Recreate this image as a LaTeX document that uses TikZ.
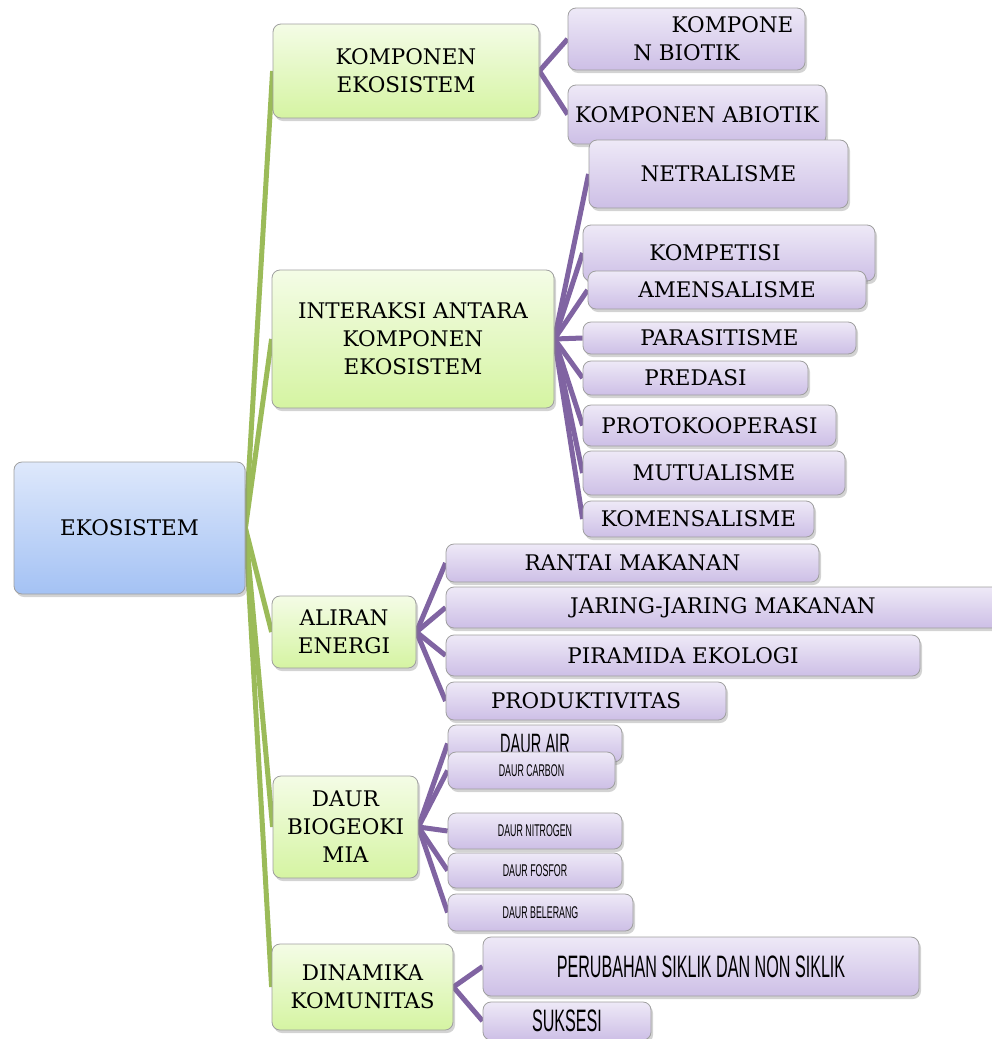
\documentclass[tikz,border=0pt]{standalone}
\usepackage{fontspec}
\setmainfont{DejaVu Serif}
\newfontfamily\agency[FakeStretch=0.52]{Liberation Sans}
\usetikzlibrary{shapes,arrows,calc,positioning,backgrounds,shadows}

\definecolor{blueT}{HTML}{DEE8FB}
\definecolor{blueB}{HTML}{A4C2F4}
\definecolor{greenT}{HTML}{F4FCE6}
\definecolor{greenB}{HTML}{D5F4A2}
\definecolor{purpT}{HTML}{EEE9F7}
\definecolor{purpB}{HTML}{CDBFE6}
\definecolor{lgreen}{HTML}{9BBB59}
\definecolor{lpurple}{HTML}{8064A2}

\tikzset{
  base/.style={draw=gray!75, line width=0.8pt, rounded corners=8pt, align=center,
    font=\fontsize{21.5}{28}\selectfont,
    drop shadow={shadow xshift=2pt, shadow yshift=-3pt, opacity=0.35}},
  rootbox/.style={base, top color=blueT, bottom color=blueB},
  topic/.style={base, top color=greenT, bottom color=greenB},
  item/.style={base, top color=purpT, bottom color=purpB},
  boxsize/.style 2 args={minimum width=#1pt, minimum height=#2pt},
  agencysmall/.style={font=\agency\fontsize{17}{20}\selectfont},
  agencymid/.style={font=\agency\fontsize{28}{30}\selectfont},
  agencybig/.style={font=\agency\fontsize{31}{34}\selectfont},
  greenline/.style={line width=5pt, color=lgreen},
  purpleline/.style={line width=5pt, color=lpurple}
}

\begin{document}
\begin{tikzpicture}[x=1pt,y=-1pt]
  \useasboundingbox (0,0) rectangle (992,1039);

  \node[rootbox, boxsize={231}{132}] (eko) at (129.5,528) {EKOSISTEM};

  \node[topic, boxsize={266}{94}] (komp) at (406,71) {KOMPONEN\\EKOSISTEM};
  \node[topic, boxsize={282}{138}] (inter) at (413,339) {INTERAKSI ANTARA\\KOMPONEN\\EKOSISTEM};
  \node[topic, boxsize={144}{72}] (aliran) at (344,632) {ALIRAN\\ENERGI};
  \node[topic, boxsize={145}{102}] (daur) at (345.5,827) {DAUR\\BIOGEOKI\\MIA};
  \node[topic, boxsize={181}{86}] (dinamika) at (362.5,987) {DINAMIKA\\KOMUNITAS};

  \node[item, boxsize={237}{62}] (biotik) at (686.5,39) {\hspace*{92pt}KOMPONE\\N BIOTIK};
  \node[item, boxsize={258}{59}] (abiotik) at (697,114.5) {KOMPONEN ABIOTIK};
  \node[item, boxsize={259}{68}] (netral) at (718.5,174) {NETRALISME};
  \node[item, boxsize={292}{56}] (kompetisi) at (729,253) {KOMPETISI\hspace*{28pt}};
  \node[item, boxsize={278}{38}] (amensal) at (727,290) {AMENSALISME};
  \node[item, boxsize={273}{32}] (parasit) at (719.5,338) {PARASITISME};
  \node[item, boxsize={225}{34}] (predasi) at (695.5,378) {PREDASI};
  \node[item, boxsize={253}{41}] (proto) at (709.5,425.5) {PROTOKOOPERASI};
  \node[item, boxsize={262}{44}] (mutual) at (714,473) {MUTUALISME};
  \node[item, boxsize={231}{36}] (komensal) at (698.5,519) {KOMENSALISME};

  \node[item, boxsize={373}{38}] (rantai) at (632.5,563) {RANTAI MAKANAN};
  \node[item, boxsize={554}{41}] (jaring) at (723,607.5) {JARING-JARING MAKANAN};
  \node[item, boxsize={474}{41}] (piramida) at (683,655.5) {PIRAMIDA EKOLOGI};
  \node[item, boxsize={280}{38}] (produk) at (586,701) {PRODUKTIVITAS};

  \node[item, agencymid, boxsize={174}{37}] (air) at (535,743.5) {DAUR AIR};
  \node[item, agencysmall, boxsize={167}{37}] (carbon) at (531.5,770.5) {DAUR CARBON};
  \node[item, agencysmall, boxsize={174}{36}] (nitrogen) at (535,831) {DAUR NITROGEN};
  \node[item, agencysmall, boxsize={174}{35}] (fosfor) at (535,870.5) {DAUR FOSFOR};
  \node[item, agencysmall, boxsize={185}{37}] (belerang) at (540.5,912.5) {DAUR BELERANG};

  \node[item, agencybig, boxsize={436}{59}] (siklik) at (701,966.5) {PERUBAHAN SIKLIK DAN NON SIKLIK};
  \node[item, agencybig, boxsize={168}{38}] (suksesi) at (567,1021) {SUKSESI};

  \begin{scope}[on background layer]
    \foreach \t in {komp,inter,aliran,daur,dinamika}
      \draw[greenline] (eko.east) -- (\t.west);
    \foreach \t in {biotik,abiotik}
      \draw[purpleline] (komp.east) -- (\t.west);
    \foreach \t in {netral,kompetisi,amensal,parasit,predasi,proto,mutual,komensal}
      \draw[purpleline] (inter.east) -- (\t.west);
    \foreach \t in {rantai,jaring,piramida,produk}
      \draw[purpleline] (aliran.east) -- (\t.west);
    \foreach \t in {air,carbon,nitrogen,fosfor,belerang}
      \draw[purpleline] (daur.east) -- (\t.west);
    \foreach \t in {siklik,suksesi}
      \draw[purpleline] (dinamika.east) -- (\t.west);
  \end{scope}
\end{tikzpicture}
\end{document}
